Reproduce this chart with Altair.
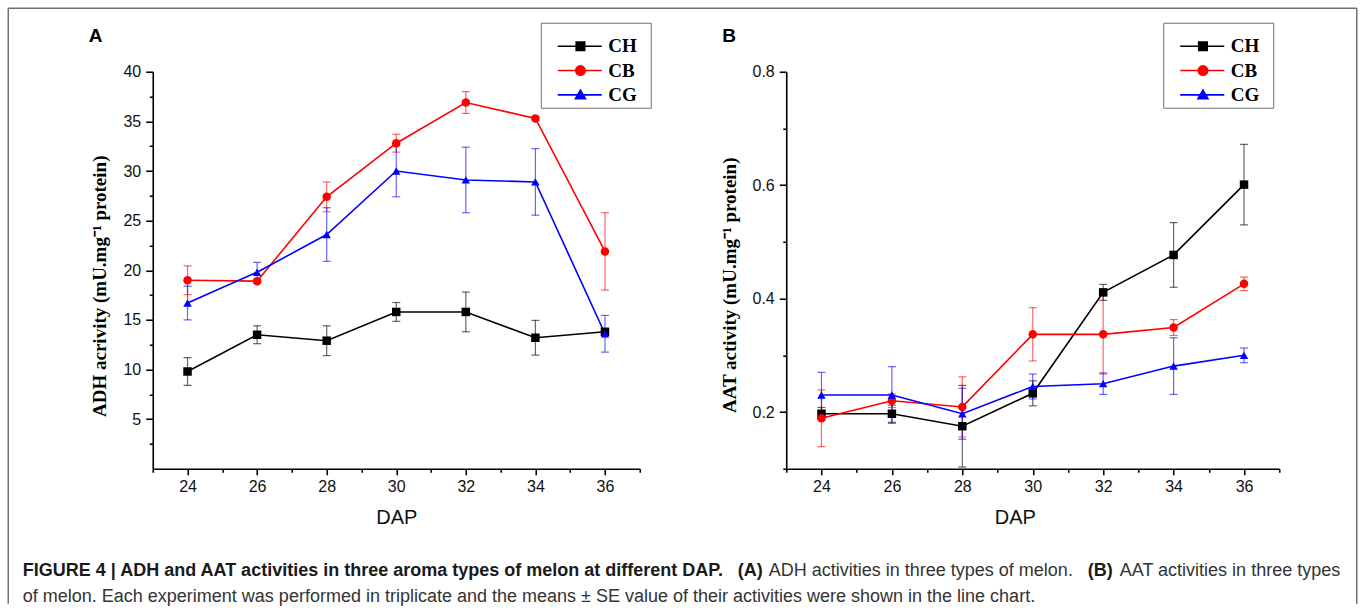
import altair as alt
import pandas as pd

# ---------------- data ----------------
days = [24, 26, 28, 30, 32, 34, 36]
series = ["CH", "CB", "CG"]
colors = ["#000000", "#ff0000", "#0000ff"]
shapes = ["square", "circle", "triangle-up"]
marker_sizes = [72, 72, 105]

# Panel A: ADH activity (mean, SE)
adh_ch = [9.8, 13.5, 12.9, 15.8, 15.8, 13.2, 13.8]
adh_ch_se = [1.4, 0.9, 1.5, 0.95, 2.0, 1.75, 0.3]
adh_cb = [19.0, 18.9, 27.4, 32.8, 36.9, 35.3, 21.9]
adh_cb_se = [1.45, 0.2, 1.5, 0.9, 1.1, 0.2, 3.9]
adh_cg = [16.7, 19.8, 23.6, 30.0, 29.1, 28.9, 13.6]
adh_cg_se = [1.7, 1.0, 2.7, 2.6, 3.3, 3.35, 1.85]

# Panel B: AAT activity (mean, SE)
aat_ch = [0.197, 0.197, 0.175, 0.233, 0.411, 0.477, 0.601]
aat_ch_se = [0.011, 0.015, 0.072, 0.022, 0.014, 0.057, 0.071]
aat_cb = [0.189, 0.220, 0.209, 0.337, 0.337, 0.349, 0.426]
aat_cb_se = [0.05, 0.012, 0.053, 0.047, 0.07, 0.014, 0.012]
aat_cg = [0.230, 0.230, 0.197, 0.245, 0.250, 0.281, 0.300]
aat_cg_se = [0.04, 0.05, 0.045, 0.022, 0.019, 0.05, 0.013]

x_major = [24, 26, 28, 30, 32, 34, 36]
x_minor = [23, 25, 27, 29, 31, 33, 35, 37]
adh_major = [5, 10, 15, 20, 25, 30, 35, 40]
adh_minor = [2.5, 7.5, 12.5, 17.5, 22.5, 27.5, 32.5, 37.5]
aat_major = [0.2, 0.4, 0.6, 0.8]
aat_minor = [0.1, 0.3, 0.5, 0.7]

caption_bold_1 = "FIGURE 4 | ADH and AAT activities in three aroma types of melon at different DAP."
caption_bold_a = "(A)"
caption_norm_1 = "ADH activities in three types of melon."
caption_bold_b = "(B)"
caption_norm_2 = "AAT activities in three types"
caption_line_2 = ("of melon. Each experiment was performed in triplicate and the means \u00b1 SE "
                  "value of their activities were shown in the line chart.")

# legend symbols: line segment with a marker in the middle (custom SVG paths);
# the trailing moves only widen the legend frame to the left and right
legend_paths = [
    "M-7.8,0H1M-4.11,-0.85H-2.41V0.85H-4.11ZM-10,0M9.5,0",
    "M-7.8,0H1M-4.2,0A0.94,0.94,0,1,0,-2.32,0A0.94,0.94,0,1,0,-4.2,0ZM-10,0M9.5,0",
    "M-7.8,0H1M-3.26,-0.95L-2.26,0.75H-4.26ZM-10,0M9.5,0",
]


def make_df(means, ses):
    rows = []
    for s, m, e in zip(series, means, ses):
        for d, v, se in zip(days, m, e):
            rows.append({"series": s, "day": d, "mean": v, "lo": v - se, "hi": v + se})
    return pd.DataFrame(rows)


df_a = make_df([adh_ch, adh_cb, adh_cg], [adh_ch_se, adh_cb_se, adh_cg_se])
df_b = make_df([aat_ch, aat_cb, aat_cg], [aat_ch_se, aat_cb_se, aat_cg_se])
one = pd.DataFrame({"k": [0]})

SANS = "Liberation Sans"
SERIF = "Liberation Serif"

color_scale = alt.Scale(domain=series, range=colors)
xs = alt.Scale(domain=[23, 37], nice=False, zero=False)

AXIS_COMMON = dict(
    labelFont=SANS, labelFontSize=16, labelColor="#111111",
    labelOverlap=False, labelFlush=False,
    domainColor="black", domainWidth=1.6, tickColor="black", tickWidth=1.6, grid=False,
)


def x_axis_major(title_x):
    return alt.Axis(
        orient="bottom", values=x_major, format="d", tickSize=6, labelPadding=4,
        title="DAP", titleFont=SANS, titleFontSize=20, titleFontWeight="normal",
        titleColor="#111111", titleBaseline="alphabetic", titleY=55, titleX=title_x,
        **AXIS_COMMON)


def x_axis_minor():
    return alt.Axis(orient="bottom", values=x_minor, tickSize=3.5, labels=False,
                    domain=False, title=None, grid=False, tickColor="black", tickWidth=1.6)


def y_axis_major(title, values, fmt, title_x, title_y):
    return alt.Axis(
        orient="left", values=values, format=fmt, tickSize=7, labelPadding=5,
        title=title, titleFont=SERIF, titleFontSize=19, titleFontWeight="bold",
        titleColor="black", titleBaseline="bottom", titleX=title_x, titleY=title_y,
        titleAngle=270, **AXIS_COMMON)


def y_axis_minor(values):
    return alt.Axis(orient="left", values=values, tickSize=3.5, labels=False,
                    domain=False, title=None, grid=False, tickColor="black", tickWidth=1.6)


def panel(df, ys, xmaj, xmin, ymaj, ymin, legend_x, letter, width, extra=()):
    X = alt.X("day:Q", scale=xs, axis=None)
    col = alt.Color("series:N", scale=color_scale, legend=None)

    # error bar stems carry the minor-tick axes
    err = alt.Chart(df).mark_rule(strokeWidth=1.2, opacity=0.6).encode(
        x=alt.X("day:Q", scale=xs, axis=xmin),
        y=alt.Y("lo:Q", scale=ys, axis=ymin), y2="hi:Q", color=col)
    cap_lo = alt.Chart(df).mark_tick(orient="horizontal", size=8, thickness=1.2, opacity=0.6).encode(
        x=X, y=alt.Y("lo:Q", scale=ys, axis=None), color=col)
    cap_hi = alt.Chart(df).mark_tick(orient="horizontal", size=8, thickness=1.2, opacity=0.6).encode(
        x=X, y=alt.Y("hi:Q", scale=ys, axis=None), color=col)
    line = alt.Chart(df).mark_line(strokeWidth=1.6).encode(
        x=alt.X("day:Q", scale=xs, axis=xmaj),
        y=alt.Y("mean:Q", scale=ys, axis=ymaj),
        color=col)
    pts = alt.Chart(df).mark_point(filled=True, opacity=1).encode(
        x=X, y=alt.Y("mean:Q", scale=ys, axis=None), color=col,
        shape=alt.Shape("series:N", scale=alt.Scale(domain=series, range=shapes), legend=None),
        size=alt.Size("series:N", scale=alt.Scale(domain=series, range=marker_sizes), legend=None))

    leg = alt.Legend(
        title=" ", titleFontSize=6, titlePadding=5.5, titleFont=SANS,
        orient="none", legendX=legend_x, legendY=-49,
        padding=2.5, strokeColor="#707070", fillColor="white", cornerRadius=0,
        symbolSize=100, symbolStrokeWidth=1.6, symbolOffset=44, symbolOpacity=1,
        labelOffset=2,
        labelFont=SERIF, labelFontWeight="bold", labelFontSize=19,
        labelColor="black", rowPadding=4.3,
    )
    legend_layer = alt.Chart(df).mark_point(filled=True, opacity=1, size=100, strokeWidth=1.6).encode(
        shape=alt.Shape("series:N", scale=alt.Scale(domain=series, range=legend_paths), legend=leg),
        fill=alt.Fill("series:N", scale=alt.Scale(domain=series, range=colors), legend=leg),
        stroke=alt.Stroke("series:N", scale=alt.Scale(domain=series, range=colors), legend=leg),
    ).transform_filter("false")

    letter_txt = alt.Chart(one).mark_text(
        align="left", baseline="alphabetic", font=SANS, fontSize=19, fontWeight="bold", color="black"
    ).encode(x=alt.value(-64), y=alt.value(-29.6), text=alt.value(letter))

    return alt.layer(err, cap_lo, cap_hi, line, pts, legend_layer, letter_txt, *extra).resolve_scale(
        shape="independent", fill="independent", stroke="independent"
    ).resolve_axis(x="independent", y="independent").properties(width=width, height=397)


# caption and frame (placed relative to panel A's plot area)
def cap_text(txt, x, y, bold):
    return alt.Chart(one).mark_text(
        align="left", baseline="alphabetic", font=SANS, fontSize=18,
        fontWeight="bold" if bold else "normal", color="#1a1a1a" if bold else "#333333"
    ).encode(x=alt.value(x), y=alt.value(y), text=alt.value(txt))


frame_col = "#707070"
frame = [
    alt.Chart(one).mark_rule(color=frame_col, strokeWidth=1.5).encode(
        x=alt.value(-144.5), x2=alt.value(1204), y=alt.value(-63.5)),
    alt.Chart(one).mark_rule(color=frame_col, strokeWidth=1.5).encode(
        x=alt.value(-144.5), y=alt.value(-63.5), y2=alt.value(532)),
    alt.Chart(one).mark_rule(color=frame_col, strokeWidth=1.5).encode(
        x=alt.value(1204), y=alt.value(-63.5), y2=alt.value(532)),
]
captions = [
    cap_text(caption_bold_1, -130, 504, True),
    cap_text(caption_bold_a, 585, 504, True),
    cap_text(caption_norm_1, 616, 504, False),
    cap_text(caption_bold_b, 935, 504, True),
    cap_text(caption_norm_2, 967, 504, False),
    cap_text(caption_line_2, -130, 530, False),
]

ys_a = alt.Scale(domain=[0, 40], nice=False, zero=False)
ys_b = alt.Scale(domain=[0.1, 0.8], nice=False, zero=False)

panel_a = panel(
    df_a, ys_a, x_axis_major(243.5), x_axis_minor(),
    y_axis_major("ADH acrivity (mU.mg\u207b\u00b9 protein)", adh_major, "d", -43, 214),
    y_axis_minor(adh_minor),
    388, "A", 487, extra=frame + captions)
panel_b = panel(
    df_b, ys_b, x_axis_major(228.5), x_axis_minor(),
    y_axis_major("AAT activity (mU.mg\u207b\u00b9 protein)", aat_major, ".1f", -46.5, 213),
    y_axis_minor(aat_minor),
    377, "B", 493)

chart = alt.hconcat(panel_a, panel_b, spacing=146.5, bounds="flush").properties(
    padding={"left": 6.75, "top": 6.75, "right": 0, "bottom": 0},
    background="white",
).configure_view(strokeWidth=0)

chart.save("out.html", embed_options={"renderer": "svg", "actions": False})
